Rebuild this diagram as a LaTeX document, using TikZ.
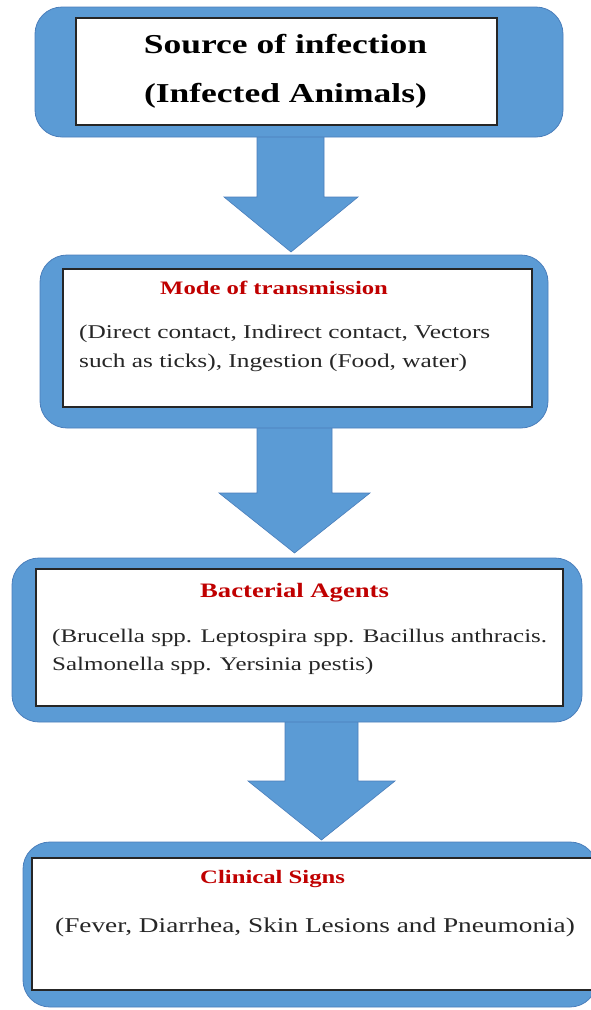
\documentclass[tikz,border=0pt]{standalone}
\usepackage{fontspec}
\setmainfont{Liberation Serif}[FakeStretch=1.3]
\definecolor{shapeblue}{HTML}{5B9BD5}
\definecolor{shapeedge}{HTML}{4A7EBB}
\definecolor{titlered}{HTML}{C00000}
\begin{document}
\begin{tikzpicture}[x=1pt,y=-1pt,
  outerbox/.style={fill=shapeblue, draw=shapeedge, line width=0.8pt, rounded corners=27pt, inner sep=0pt, outer sep=0pt, anchor=north west},
  innerbox/.style={fill=white, draw=black!85, line width=1.3pt, inner sep=0pt, outer sep=0pt, anchor=north west},
  blockarrow/.style={fill=shapeblue, draw=shapeedge, line width=0.6pt},
  txt/.style={anchor=base west, inner sep=0pt, text=black!85, font=\fontsize{19.2}{23}\selectfont},
  ttl/.style={anchor=base west, inner sep=0pt, text=titlered, font=\bfseries\fontsize{19}{23}\selectfont}]
\useasboundingbox (0,0) rectangle (590,1010);
\fill[white] (0,0) rectangle (590,1010);
\begin{scope}
\clip (-5,-5) rectangle (600,1015);

% block arrows (drawn first, boxes cover their tops)
\filldraw[blockarrow] (257,130) -- (257,197) -- (224,197) -- (291,252) -- (358,197) -- (324,197) -- (324,130) -- cycle;
\filldraw[blockarrow] (257,420) -- (257,493) -- (219,493) -- (294.5,553) -- (370,493) -- (332,493) -- (332,420) -- cycle;
\filldraw[blockarrow] (285,714) -- (285,781) -- (248,781) -- (321.5,840) -- (395,781) -- (358,781) -- (358,714) -- cycle;

% box 1
\node[outerbox, minimum width=528pt, minimum height=130pt] (o1) at (35,7) {};
\node[innerbox, minimum width=421pt, minimum height=107pt] (i1) at (76,18) {};
\node[anchor=base, inner sep=0pt, font=\bfseries\fontsize{27.3}{32}\selectfont] (t1a) at (285.5,53) {Source of infection};
\node[anchor=base, inner sep=0pt, font=\bfseries\fontsize{27.3}{32}\selectfont] (t1b) at (285.5,102) {(Infected Animals)};

% box 2
\node[outerbox, minimum width=508pt, minimum height=173pt] (o2) at (40,255) {};
\node[innerbox, minimum width=469pt, minimum height=138pt] (i2) at (63,269) {};
\node[ttl] (t2) at (160,294) {Mode of transmission};
\node[txt, font=\fontsize{19.5}{23}\selectfont] (b2a) at (79,338) {(Direct contact, Indirect contact, Vectors};
\node[txt, font=\fontsize{19.5}{23}\selectfont] (b2b) at (79,367) {such as ticks), Ingestion (Food, water)};

% box 3
\node[outerbox, minimum width=570pt, minimum height=164pt] (o3) at (12,558) {};
\node[innerbox, minimum width=527pt, minimum height=137pt] (i3) at (36,569) {};
\node[ttl, font=\bfseries\fontsize{20.5}{24}\selectfont] (t3) at (200,597) {Bacterial Agents};
\node[txt] (b3a) at (52,642) {(Brucella spp. Leptospira spp. Bacillus anthracis.};
\node[txt] (b3b) at (52,670) {Salmonella spp. Yersinia pestis)};

% box 4 (runs past the right edge)
\node[outerbox, minimum width=574pt, minimum height=165pt] (o4) at (23,842) {};
\node[innerbox, minimum width=600pt, minimum height=132pt] (i4) at (32,858) {};
\node[ttl] (t4) at (200,883) {Clinical Signs};
\node[txt, font=\fontsize{21}{25}\selectfont] (b4) at (55,932) {(Fever, Diarrhea, Skin Lesions and Pneumonia)};
\end{scope}
\end{tikzpicture}
\end{document}
